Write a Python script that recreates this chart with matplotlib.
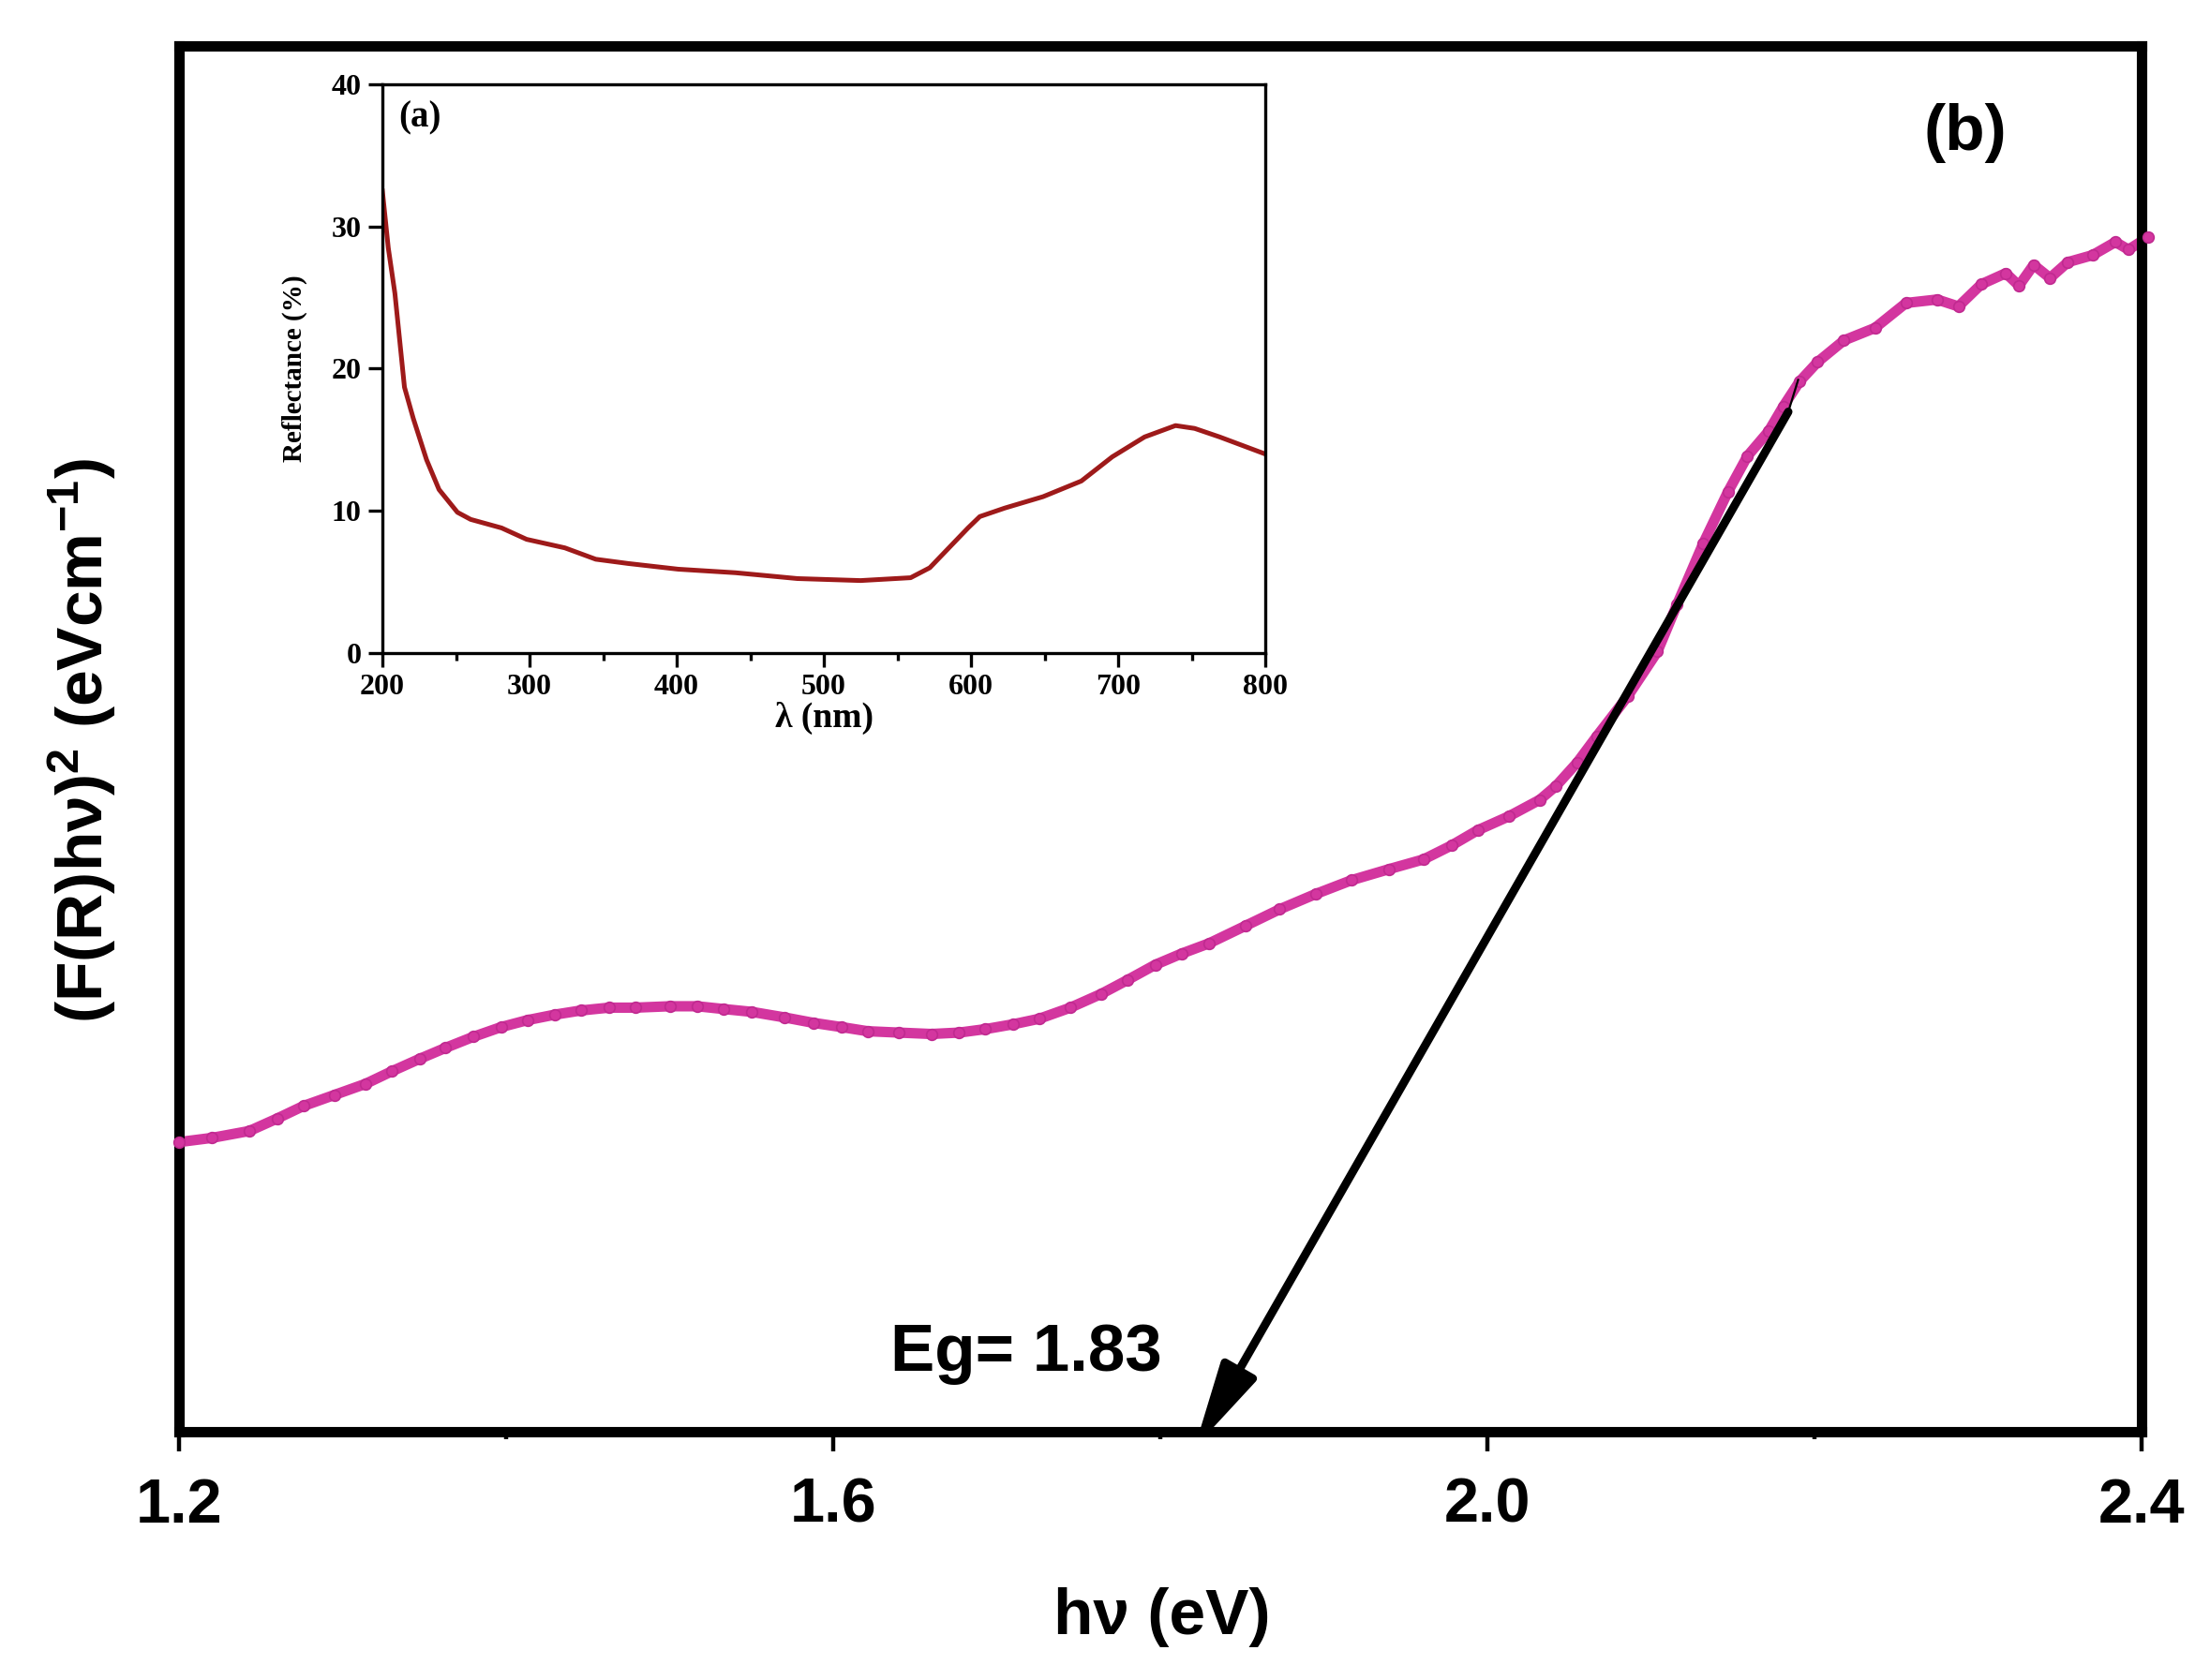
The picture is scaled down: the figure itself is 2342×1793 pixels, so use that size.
import numpy as np
import matplotlib.pyplot as plt
from matplotlib.ticker import FormatStrFormatter

# Datos: curva de Tauc (unidades arbitrarias, 0-100)
energia = [1.200, 1.220, 1.243, 1.260, 1.276, 1.295, 1.314, 1.330, 1.347, 1.363,
           1.380, 1.397, 1.413, 1.430, 1.446, 1.463, 1.479, 1.500, 1.517, 1.533,
           1.550, 1.570, 1.588, 1.605, 1.621, 1.640, 1.660, 1.677, 1.693, 1.710,
           1.726, 1.745, 1.764, 1.780, 1.797, 1.813, 1.830, 1.852, 1.873, 1.895,
           1.917, 1.940, 1.961, 1.978, 1.994, 2.013, 2.032, 2.042, 2.055, 2.067,
           2.086, 2.104, 2.116, 2.132, 2.147, 2.159, 2.172, 2.181, 2.191, 2.202,
           2.218, 2.237, 2.256, 2.275, 2.288, 2.302, 2.317, 2.325, 2.334, 2.344,
           2.355, 2.370, 2.384, 2.392, 2.404]
absorcion = [20.9, 21.2, 21.7, 22.6, 23.5, 24.3, 25.1, 26.0, 26.9, 27.7,
             28.5, 29.2, 29.7, 30.1, 30.4, 30.6, 30.6, 30.7, 30.7, 30.5,
             30.3, 29.9, 29.5, 29.2, 28.9, 28.8, 28.7, 28.8, 29.05, 29.4,
             29.8, 30.6, 31.6, 32.6, 33.7, 34.5, 35.25, 36.5, 37.7, 38.8,
             39.8, 40.6, 41.3, 42.3, 43.4, 44.4, 45.6, 46.6, 48.3, 50.2,
             53.1, 56.3, 59.7, 64.1, 67.8, 70.4, 72.2, 74.0, 75.8, 77.2,
             78.75, 79.65, 81.45, 81.7, 81.2, 82.8, 83.6, 82.7, 84.2, 83.25,
             84.4, 84.9, 85.85, 85.3, 86.2]

# Recta de ajuste (extremos) y band gap
recta_x = [2.190, 2.184]
recta_y = [75.9, 73.6]
eg_x = 1.821
eg_y = -1.15

# Inserto: reflectancia
longitud = [200, 204, 208.5, 215, 221, 230, 238.5, 251, 260, 281,
            298, 324, 345, 367, 401, 440, 482, 525, 559, 572,
            585, 598, 606, 623, 649, 675, 696, 718, 739, 752,
            769, 800]
reflectancia = [32.5, 28.5, 25.3, 18.7, 16.5, 13.6, 11.5, 9.9, 9.4, 8.8,
                8.0, 7.4, 6.6, 6.3, 5.9, 5.65, 5.24, 5.1, 5.3, 6.0,
                7.4, 8.8, 9.6, 10.2, 11.0, 12.1, 13.8, 15.2, 16.0, 15.8,
                15.2, 14.0]

rosa = '#d3369f'
rojo = '#9e1a1a'

plt.rcParams['font.family'] = ['Liberation Sans', 'DejaVu Sans']
plt.rcParams['font.weight'] = 'bold'
plt.rcParams['axes.labelweight'] = 'bold'
plt.rcParams['mathtext.fontset'] = 'custom'
plt.rcParams['mathtext.rm'] = 'Liberation Sans:bold'
plt.rcParams['mathtext.it'] = 'Liberation Sans:bold'
plt.rcParams['mathtext.bf'] = 'Liberation Sans:bold'

W, H = 2342, 1793
fig = plt.figure(figsize=(W / 200, H / 200), dpi=200)
ax = fig.add_axes([191 / W, 1 - 1528 / H, 2094 / W, 1479 / H])

ax.plot(energia, absorcion, '-', color=rosa, lw=4.0, zorder=2)
ax.plot(energia, absorcion, 'o', ms=4.2, mfc=rosa, mec='#c02a90', mew=0.6,
        clip_on=False, zorder=3)

ax.plot(recta_x, recta_y, color='k', lw=0.8, zorder=4)
ax.annotate('', xy=(eg_x, eg_y), xytext=(recta_x[1], recta_y[1]),
            arrowprops=dict(arrowstyle='-|>,head_length=2.7,head_width=0.62',
                            mutation_scale=10, lw=3.2, color='k',
                            shrinkA=0, shrinkB=0),
            annotation_clip=False, zorder=4)

ax.text(1.635, 5.6, 'Eg= 1.83', fontsize=25.5, ha='left', va='center')
ax.text(2.292, 93.7, '(b)', fontsize=25, ha='center', va='center')

ax.set_xlim(1.2, 2.4)
ax.set_ylim(0, 100)
ax.set_xticks([1.2, 1.6, 2.0, 2.4])
ax.set_xticks([1.4, 1.8, 2.2], minor=True)
ax.xaxis.set_major_formatter(FormatStrFormatter('%.1f'))
ax.set_yticks([])
for sp in ax.spines.values():
    sp.set_linewidth(4)
ax.tick_params(axis='x', which='major', direction='out', length=7.5, width=1.6,
               labelsize=24, pad=10)
ax.tick_params(axis='x', which='minor', direction='out', length=3, width=1.6)

ax.set_xlabel('hν (eV)', fontsize=25, fontweight='bold')
ax.xaxis.set_label_coords(0.501, -0.112)
fig.text(88 / W, 1 - 790 / H, '(F(R)hν)$^{2}$ (eVcm$^{-1}$)', fontsize=25,
         rotation=90, ha='center', va='center')

# Inserto (a)
serif = ['Liberation Serif', 'DejaVu Serif']
axin = fig.add_axes([408 / W, 1 - 697 / H, 942 / W, 607 / H])
axin.plot(longitud, reflectancia, color=rojo, lw=1.8)
axin.set_xlim(200, 800)
axin.set_ylim(0, 40)
axin.set_xticks(range(200, 801, 100))
axin.set_xticks(range(250, 800, 100), minor=True)
axin.set_yticks(range(0, 41, 10))
for sp in axin.spines.values():
    sp.set_linewidth(1.2)
axin.tick_params(which='major', direction='out', length=5.5, width=1.2,
                 labelsize=11.5, pad=2.5)
axin.tick_params(which='minor', direction='out', length=3, width=1.2)
for lab in axin.get_xticklabels() + axin.get_yticklabels():
    lab.set_family(serif)
    lab.set_fontweight('bold')
axin.set_xlabel('λ (nm)', fontsize=13.5, family=serif, fontweight='bold')
axin.xaxis.set_label_coords(0.5, -0.085)
axin.set_ylabel('Reflectance (%)', fontsize=10.5, family=serif, fontweight='bold')
axin.yaxis.set_label_coords(-0.085, 0.5)
axin.text(225.4, 37.6, '(a)', fontsize=14, family=serif, fontweight='bold',
          ha='center', va='center')

fig.savefig('out.png', dpi=200)
